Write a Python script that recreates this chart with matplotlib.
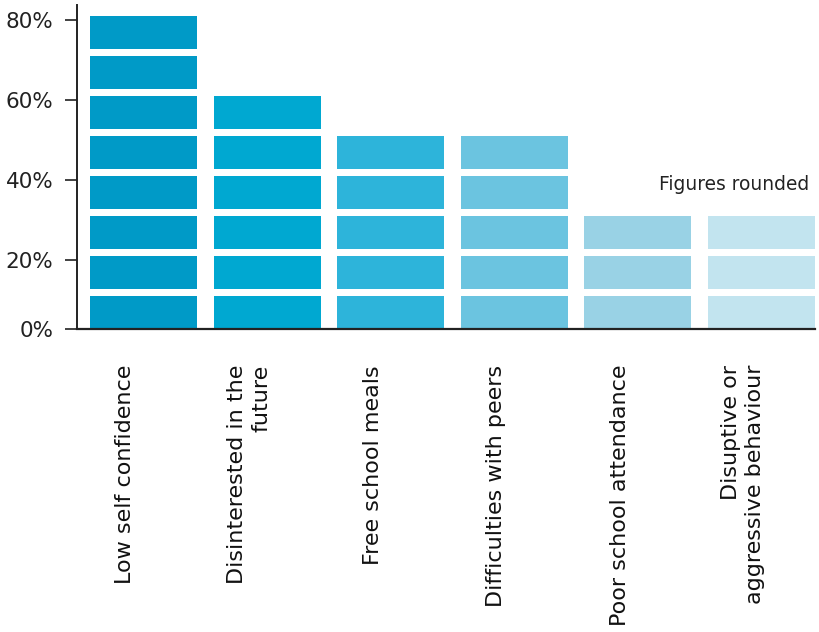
import matplotlib.pyplot as plt
from matplotlib.patches import Rectangle

plt.rcParams['font.family'] = ['DejaVu Sans']

categories = ['Low self confidence', 'Disinterested in the\nfuture', 'Free school meals',
              'Difficulties with peers', 'Poor school attendance', 'Disuptive or\naggressive behaviour']
values = [80, 60, 50, 50, 30, 30]
colors = ['#009ac7', '#00a8d1', '#2db4da', '#6bc4e0', '#99d2e5', '#c2e4ef']
tick_values = [0, 20, 40, 60, 80]
tick_labels = ['0%', '20%', '40%', '60%', '80%']

block = 10          # each stacked block is 10%
block_h = 8.25      # visible part of a block, rest is white gap
bar_w = 0.866

fig = plt.figure(figsize=(8.19, 6.32), dpi=100)
ax = fig.add_axes([77 / 819, 1 - 329 / 632, (815 - 77) / 819, (329 - 5) / 632])

for i, (v, c) in enumerate(zip(values, colors)):
    for k in range(v // block):
        ax.add_patch(Rectangle((i - bar_w / 2, k * block), bar_w, block_h,
                               facecolor=c, edgecolor='none'))

ax.set_xlim(-0.538, 5.433)
ax.set_ylim(0, 81)

# ticks sit slightly below the block tops in the original
ax.set_yticks([v - 2.75 if v else 0 for v in tick_values])
ax.set_yticklabels(tick_labels, fontsize=15.5, color='#222222')
ax.tick_params(axis='y', length=9, width=1.3, color='#333333', pad=8)
ax.set_xticks([])

for s in ['top', 'right']:
    ax.spines[s].set_visible(False)
ax.spines['left'].set_linewidth(1.4)
ax.spines['bottom'].set_linewidth(1.6)
ax.spines['left'].set_color('#222222')
ax.spines['bottom'].set_color('#222222')

for i, name in enumerate(categories):
    ax.text(i - 0.146, -0.111, name, transform=ax.get_xaxis_transform(),
            rotation=90, ha='center', va='top', multialignment='right',
            fontsize=16, color='#111111', linespacing=1.25)

ax.text(5.39, 34.75, 'Figures rounded', ha='right', va='baseline',
        fontsize=13.4, color='#222222')

plt.savefig('out.png', dpi=100)
